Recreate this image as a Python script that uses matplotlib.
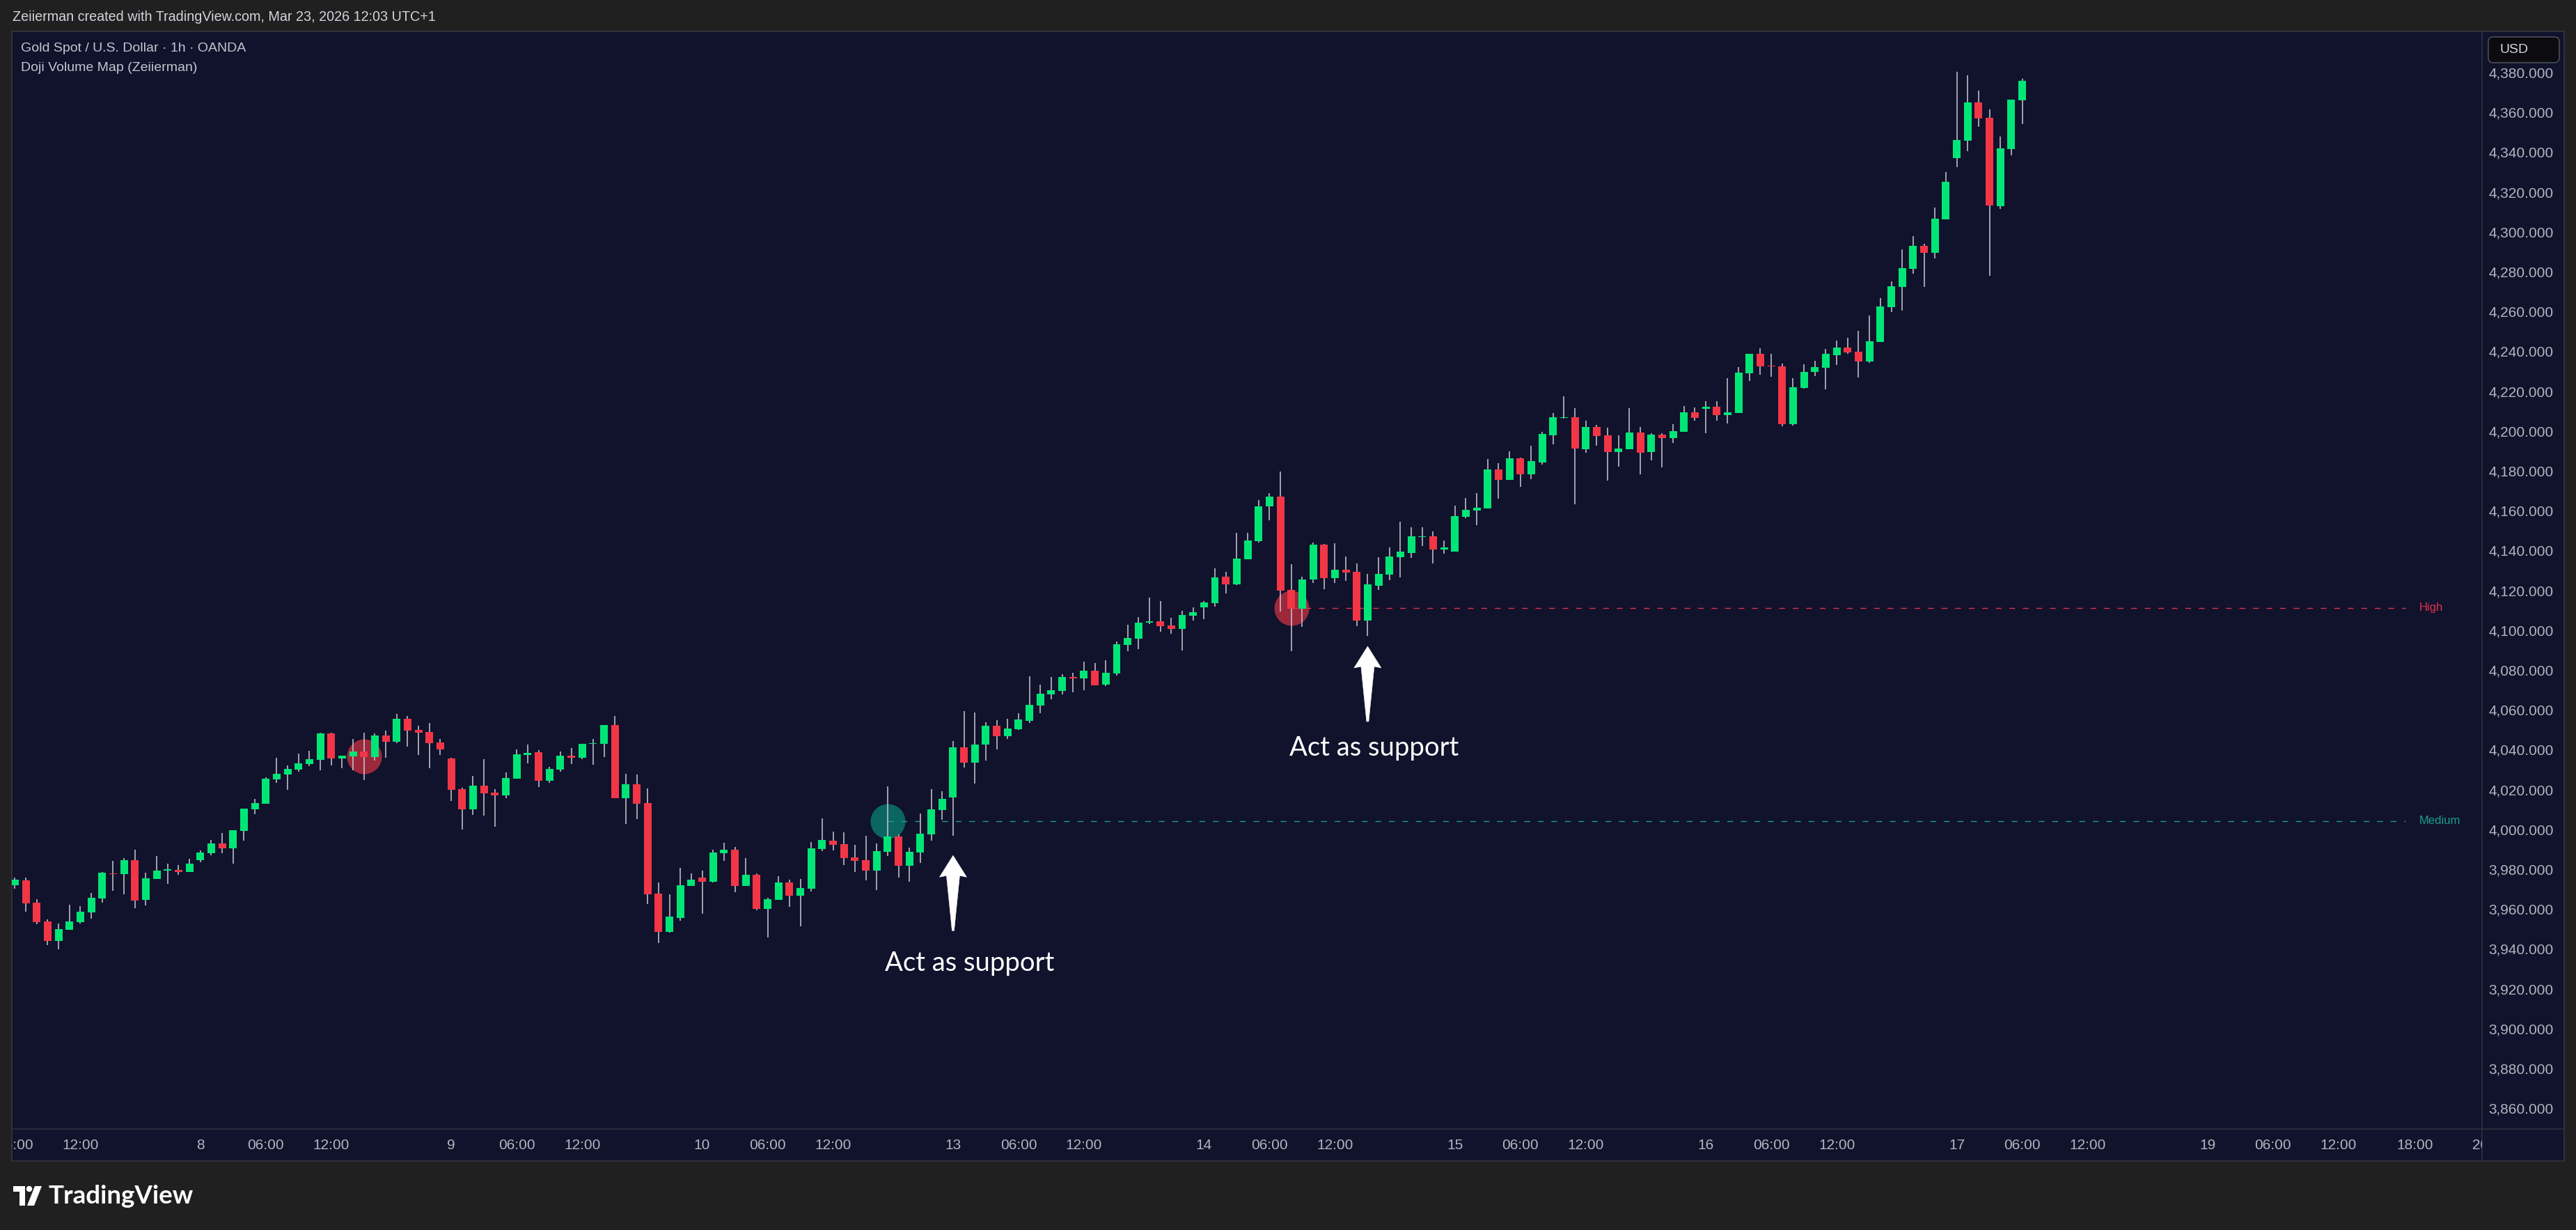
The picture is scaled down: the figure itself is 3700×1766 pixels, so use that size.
import matplotlib
matplotlib.use("Agg")
import matplotlib.pyplot as plt
import matplotlib.transforms as mtransforms
from matplotlib.patches import Rectangle, FancyBboxPatch, Polygon
from matplotlib.transforms import Bbox
import numpy as np

# XAUUSD 1h candles, Oct 7 06:00 -> Oct 17 06:00
opens = [3972.1, 3974.4, 3963.2, 3953.8, 3944.1, 3949.7, 3953.5, 3958.4, 3965.4, 3977.9,
         3977.7, 3984.5, 3964.7, 3975.2, 3979.4, 3979.6, 3978.7, 3984.6, 3988.1, 3992.9,
         3990.6, 3999.3, 4010.2, 4013.0, 4025.2, 4027.7, 4030.1, 4032.9, 4035.0, 4048.2,
         4035.6, 4036.6, 4039.1, 4036.3, 4047.1, 4044.0, 4055.5, 4049.9, 4048.9, 4043.6,
         4035.6, 4020.2, 4010.1, 4022.0, 4018.5, 4017.1, 4025.4, 4037.3, 4038.7, 4024.4,
         4030.0, 4037.0, 4035.9, 4043.0, 4042.9, 4052.4, 4015.7, 4022.7, 4013.2, 3967.8,
         3948.5, 3955.5, 3971.6, 3975.8, 3973.7, 3988.0, 3989.8, 3971.6, 3977.2, 3960.1,
         3964.6, 3973.4, 3966.7, 3970.2, 3990.1, 3994.3, 3992.6, 3985.9, 3984.5, 3979.3,
         3988.7, 3996.4, 3981.7, 3988.4, 3997.5, 4009.7, 4016.0, 4041.2, 4033.5, 4042.6,
         4052.0, 4046.8, 4050.3, 4054.6, 4062.3, 4067.9, 4069.6, 4076.5, 4075.9, 4079.6,
         4072.6, 4078.4, 4092.7, 4095.9, 4103.6, 4104.4, 4102.4, 4100.5, 4107.4, 4111.3,
         4113.7, 4126.8, 4123.1, 4135.7, 4144.8, 4162.0, 4167.0, 4120.2, 4110.9, 4125.3,
         4143.0, 4126.0, 4130.3, 4129.4, 4104.9, 4122.3, 4127.9, 4136.7, 4138.8, 4146.8,
         4147.2, 4140.5, 4139.5, 4157.0, 4160.1, 4161.2, 4180.7, 4175.5, 4186.3, 4178.3,
         4184.2, 4197.9, 4206.6, 4207.0, 4190.9, 4202.1, 4197.9, 4189.5, 4190.9, 4199.3,
         4189.5, 4198.2, 4196.5, 4199.6, 4209.4, 4211.1, 4212.2, 4208.0, 4209.1, 4228.9,
         4238.8, 4232.8, 4232.4, 4203.5, 4221.6, 4229.7, 4231.8, 4238.1, 4241.9, 4239.8,
         4234.9, 4244.7, 4262.2, 4272.3, 4281.4, 4293.0, 4289.5, 4306.2, 4337.0, 4345.7,
         4364.9, 4357.3, 4312.9, 4341.6, 4366.0]
highs = [3975.8, 3975.8, 3965.0, 3954.8, 3952.7, 3962.2, 3961.5, 3968.1, 3978.6, 3984.2,
         3985.6, 3989.8, 3978.2, 3986.6, 3982.8, 3982.1, 3985.2, 3989.4, 3994.7, 3998.2,
         3999.6, 4010.4, 4015.3, 4026.0, 4035.9, 4032.1, 4038.0, 4039.4, 4048.5, 4048.5,
         4037.0, 4045.4, 4048.5, 4048.2, 4049.6, 4058.0, 4056.9, 4052.0, 4053.4, 4045.4,
         4035.9, 4020.9, 4026.8, 4035.2, 4020.2, 4028.6, 4040.1, 4042.6, 4039.8, 4031.4,
         4039.1, 4040.8, 4042.9, 4045.4, 4052.4, 4056.9, 4027.9, 4027.5, 4020.6, 3973.4,
         3967.4, 3980.7, 3977.9, 3979.3, 3989.8, 3993.3, 3991.2, 3985.6, 3977.9, 3965.7,
         3976.5, 3974.8, 3975.1, 3993.6, 4005.5, 3998.9, 3998.5, 3992.2, 3996.8, 3992.9,
         4021.6, 3997.5, 3990.8, 4008.0, 4020.2, 4019.2, 4044.3, 4059.4, 4058.7, 4053.8,
         4054.8, 4055.5, 4058.3, 4076.9, 4072.6, 4076.5, 4077.9, 4078.7, 4084.2, 4083.5,
         4084.9, 4094.3, 4102.7, 4106.6, 4116.3, 4114.7, 4106.2, 4109.7, 4111.4, 4114.7,
         4131.0, 4129.4, 4148.9, 4148.9, 4165.4, 4168.8, 4179.5, 4133.2, 4126.8, 4144.0,
         4143.3, 4143.7, 4136.9, 4133.4, 4128.3, 4136.7, 4141.6, 4154.5, 4151.7, 4151.7,
         4149.6, 4145.1, 4162.6, 4166.4, 4168.9, 4186.0, 4183.9, 4189.8, 4186.7, 4192.6,
         4199.6, 4209.1, 4217.5, 4211.5, 4205.2, 4203.1, 4201.7, 4197.9, 4211.5, 4202.1,
         4198.9, 4198.9, 4203.5, 4212.6, 4211.9, 4214.9, 4214.9, 4226.6, 4232.1, 4238.8,
         4241.5, 4238.8, 4233.8, 4226.6, 4233.6, 4235.3, 4241.2, 4245.4, 4246.8, 4250.3,
         4258.0, 4266.8, 4275.1, 4291.2, 4297.9, 4294.0, 4312.2, 4330.0, 4380.4, 4378.7,
         4370.9, 4361.4, 4347.8, 4366.4, 4376.9]
lows = [3970.3, 3958.8, 3952.5, 3942.0, 3939.9, 3949.7, 3952.8, 3955.3, 3963.3, 3969.3,
        3967.5, 3960.5, 3961.9, 3975.2, 3972.8, 3977.3, 3978.7, 3983.6, 3987.1, 3988.1,
        3982.9, 3994.4, 4007.7, 4013.0, 4023.5, 4020.0, 4029.1, 4031.9, 4029.8, 4032.2,
        4030.7, 4029.8, 4024.9, 4034.5, 4036.1, 4043.3, 4041.5, 4037.3, 4030.7, 4037.3,
        4014.3, 3999.9, 4007.3, 4006.9, 4001.3, 4015.7, 4025.4, 4033.1, 4021.3, 4023.4,
        4028.9, 4032.8, 4035.2, 4032.4, 4036.3, 4015.7, 4002.7, 4005.2, 3962.5, 3942.9,
        3948.2, 3954.1, 3971.6, 3957.6, 3973.4, 3984.2, 3968.5, 3971.6, 3959.4, 3945.7,
        3964.6, 3961.1, 3951.3, 3968.8, 3989.1, 3989.4, 3982.1, 3978.6, 3974.4, 3969.5,
        3986.6, 3975.8, 3973.7, 3983.1, 3994.3, 4004.8, 3996.8, 4031.0, 4023.0, 4034.5,
        4040.1, 4045.4, 4049.9, 4053.5, 4058.4, 4065.4, 4067.9, 4068.9, 4070.0, 4072.4,
        4072.0, 4077.3, 4089.5, 4090.6, 4102.9, 4099.1, 4098.3, 4089.9, 4104.9, 4105.6,
        4111.9, 4118.3, 4122.5, 4135.7, 4144.0, 4155.0, 4109.4, 4089.3, 4101.8, 4123.8,
        4120.7, 4123.8, 4124.9, 4102.1, 4097.0, 4120.3, 4125.1, 4126.5, 4136.3, 4142.3,
        4133.5, 4138.4, 4139.5, 4156.3, 4152.8, 4161.2, 4166.1, 4175.5, 4172.0, 4175.8,
        4183.2, 4193.3, 4206.3, 4163.3, 4189.1, 4192.6, 4175.1, 4182.1, 4190.9, 4178.3,
        4185.3, 4181.8, 4194.0, 4199.6, 4205.2, 4199.0, 4205.2, 4203.8, 4209.1, 4225.1,
        4228.3, 4227.2, 4202.5, 4202.7, 4221.3, 4227.6, 4220.9, 4233.2, 4238.8, 4226.8,
        4234.2, 4244.7, 4259.8, 4260.4, 4279.0, 4272.3, 4286.6, 4306.2, 4332.5, 4340.4,
        4352.7, 4278.0, 4311.5, 4338.4, 4354.2]
closes = [3974.6, 3963.0, 3953.5, 3944.1, 3949.9, 3953.8, 3958.7, 3965.7, 3978.2, 3977.5,
          3984.5, 3964.4, 3975.4, 3979.3, 3979.6, 3978.7, 3982.8, 3988.4, 3992.9, 3990.6,
          3999.6, 4010.4, 4013.2, 4025.4, 4027.9, 4030.3, 4033.1, 4035.2, 4048.2, 4035.7,
          4037.0, 4039.1, 4036.3, 4047.1, 4044.0, 4055.5, 4049.6, 4048.5, 4043.3, 4040.1,
          4019.9, 4010.1, 4022.0, 4018.1, 4017.1, 4025.8, 4037.7, 4038.4, 4024.4, 4030.3,
          4037.0, 4035.9, 4042.9, 4043.3, 4052.4, 4015.7, 4022.7, 4012.9, 3967.4, 3948.5,
          3956.2, 3972.0, 3974.8, 3973.7, 3988.4, 3989.8, 3971.6, 3977.2, 3960.1, 3965.0,
          3973.4, 3966.7, 3970.6, 3990.5, 3994.7, 3992.2, 3985.6, 3984.2, 3979.3, 3989.1,
          3996.4, 3981.7, 3988.7, 3997.8, 4010.1, 4015.3, 4041.2, 4033.5, 4042.6, 4052.0,
          4046.8, 4050.6, 4055.2, 4062.5, 4068.1, 4069.9, 4076.5, 4075.9, 4079.6, 4072.4,
          4078.7, 4093.0, 4096.1, 4103.8, 4104.4, 4102.1, 4100.5, 4107.7, 4109.0, 4113.9,
          4126.5, 4123.1, 4136.0, 4145.0, 4162.2, 4167.0, 4119.8, 4110.9, 4125.5, 4143.0,
          4126.0, 4130.3, 4129.1, 4104.9, 4123.0, 4128.3, 4137.0, 4139.5, 4147.2, 4147.2,
          4140.5, 4141.6, 4157.3, 4160.5, 4161.5, 4180.7, 4175.5, 4186.3, 4178.3, 4184.9,
          4198.6, 4207.0, 4207.0, 4191.2, 4202.1, 4197.5, 4189.5, 4191.2, 4199.3, 4189.1,
          4198.2, 4196.5, 4200.0, 4209.4, 4206.6, 4212.2, 4208.0, 4209.3, 4229.3, 4238.8,
          4232.4, 4232.4, 4203.5, 4221.9, 4229.7, 4232.1, 4238.8, 4241.9, 4239.4, 4234.9,
          4245.0, 4262.5, 4272.6, 4281.8, 4293.0, 4289.5, 4306.6, 4325.1, 4346.1, 4364.9,
          4356.9, 4313.2, 4341.9, 4366.4, 4375.8]

# doji volume map markers (bar index, level) and the levels that stay active
doji_bars = [32, 80, 117]
doji_prices = [4036.6, 4004.2, 4111.2]
doji_kinds = ["High", "Medium", "High"]
level_names = ["Medium", "High"]
level_start = [80, 117]
level_prices = [4004.2, 4111.2]
level_end = 219.1

# hand drawn notes
note_bars = [86, 124]
note_tips = [3986.9, 4091.9]
note_text_x = [87.5, 124.6]
note_text_y = [3932.8, 4040.8]

price_ticks = list(range(3860, 4381, 20))
time_tick_pos = [0, 6, 17, 23, 29, 40, 46, 52, 63, 69, 75, 86, 92, 98, 109, 115, 121,
                 132, 138, 144, 155, 161, 167, 178, 184, 190, 201, 207, 213, 220, 226]
time_tick_lbl = ["06:00", "12:00", "8", "06:00", "12:00", "9", "06:00", "12:00", "10",
                 "06:00", "12:00", "13", "06:00", "12:00", "14", "06:00", "12:00", "15",
                 "06:00", "12:00", "16", "06:00", "12:00", "17", "06:00", "12:00", "19",
                 "06:00", "12:00", "18:00", "20"]

W, H = 3700, 1766
FRAME = "#202020"
PANEL = "#11122c"
LINE = "#2e3140"
UP = "#00e676"
DOWN = "#f23645"
WICK = "#c9cbd3"
TEAL = "#089981"
NARROW = ["Liberation Sans Narrow", "Liberation Sans", "DejaVu Sans"]
level_colors = {"High": "#d8344b", "Medium": "#1a9e8c"}
circle_colors = {"High": DOWN, "Medium": TEAL}

fig = plt.figure(figsize=(W / 100, H / 100), dpi=100, facecolor=FRAME)

# pixel canvas for the TradingView frame
bg = fig.add_axes([0, 0, 1, 1], zorder=0)
bg.set_xlim(0, W)
bg.set_ylim(H, 0)
bg.axis("off")
bg.add_patch(Rectangle((17, 45), 3666, 1622, facecolor=PANEL, edgecolor="#34373f", lw=1.2))
bg.plot([17, 3683], [1621, 1621], color=LINE, lw=1.2)
bg.plot([3565, 3565], [45, 1667], color=LINE, lw=1.2)
bg.text(18, 25, "Zeiierman created with TradingView.com, Mar 23, 2026 12:03 UTC+1",
        family=NARROW, fontsize=14.2, color="#d1d4dc", va="center", ha="left")
bg.text(30, 69, "Gold Spot / U.S. Dollar \u00b7 1h \u00b7 OANDA", family=NARROW,
        fontsize=14, color="#c3c6ce", va="center", ha="left")
bg.text(30, 98, "Doji Volume Map (Zeiierman)", family=NARROW, fontsize=14,
        color="#c3c6ce", va="center", ha="left")
bg.add_patch(FancyBboxPatch((3574, 53), 102, 37, boxstyle="round,pad=0,rounding_size=7",
                            facecolor="#0c0c10", edgecolor="#4a4d57", lw=1.2))
bg.text(3590, 72, "USD", family=NARROW, fontsize=14, color="#d1d4dc", va="center", ha="left")

# TradingView logo, bottom left
bg.add_patch(Polygon([[19, 1703], [36, 1703], [36, 1731], [28, 1731], [28, 1711], [19, 1711]],
                     closed=True, facecolor="white", lw=0))
bg.add_patch(plt.Circle((42, 1707), 4.2, facecolor="white", lw=0))
bg.add_patch(Polygon([[50, 1703], [60, 1703], [49, 1731], [39, 1731]], closed=True,
                     facecolor="white", lw=0))
bg.text(70, 1717, "TradingView", family=["Lato", "DejaVu Sans"], fontweight="bold",
        fontsize=26.5, color="white", va="center", ha="left")

# price chart
ax = fig.add_axes([17 / W, (H - 1621) / H, (3565 - 17) / W, (1621 - 45) / H], zorder=1)
ax.set_facecolor("none")
for s in ax.spines.values():
    s.set_visible(False)

o = np.array(opens)
c = np.array(closes)
hi = np.array(highs)
lo = np.array(lows)
x = np.arange(len(o))
up = c >= o
colors = np.where(up, UP, DOWN)
body_bottom = np.minimum(o, c)
body_height = np.maximum(np.abs(c - o), 0.45)

ax.vlines(x, lo, hi, color=WICK, lw=1.1, zorder=3)
ax.bar(x, body_height, bottom=body_bottom, width=0.7, color=colors, lw=0, zorder=4)

# doji circles and their levels
for b, p, k in zip(doji_bars, doji_prices, doji_kinds):
    ax.scatter([b], [p], s=1300, color=circle_colors[k], alpha=0.62, lw=0, zorder=2)
for name, start, p in zip(level_names, level_start, level_prices):
    ax.plot([start, level_end], [p, p], color=level_colors[name], lw=1.0,
            linestyle=(0, (6, 8)), zorder=2)
    ax.text(level_end + 1.3, p, name, color=level_colors[name], fontsize=12,
            family=NARROW, va="center", ha="left")

# arrows + notes
arrow_pts = np.array([[0, 0], [19.5, -31], [9.5, -29], [1.5, -108], [-1.5, -108],
                      [-9.5, -29], [-19.5, -31]]) / 100.0
for b, tip in zip(note_bars, note_tips):
    tr = fig.dpi_scale_trans + mtransforms.ScaledTranslation(b, tip, ax.transData)
    ax.add_patch(Polygon(arrow_pts, closed=True, transform=tr, facecolor="white",
                         edgecolor="white", lw=0.4, zorder=6))
for tx, ty in zip(note_text_x, note_text_y):
    ax.text(tx, ty, "Act as support", color="white", fontsize=27.5,
            family=["Lato", "DejaVu Sans"], ha="center", va="center", zorder=6)

ax.set_xlim(-0.28, 226.15)
ax.set_ylim(3849.6, 4400.6)

ax.yaxis.tick_right()
ax.set_yticks(price_ticks, [f"{v:,.3f}" for v in price_ticks])
ax.tick_params(axis="y", length=0, pad=74, labelsize=15, labelcolor="#b2b5be")
for lbl in ax.get_yticklabels():
    lbl.set_fontfamily(NARROW)
    lbl.set_horizontalalignment("right")

ax.set_xticks(time_tick_pos, time_tick_lbl)
ax.tick_params(axis="x", length=0, pad=10, labelsize=15, labelcolor="#b2b5be")
clip = Bbox.from_extents(17, 0, 3565, H)
for t in ax.xaxis.get_major_ticks():
    t.label1.set_fontfamily(NARROW)
    t.label1.set_clip_box(clip)
    t.label1.set_clip_on(True)

fig.savefig("out.png", dpi=100, facecolor=FRAME)
